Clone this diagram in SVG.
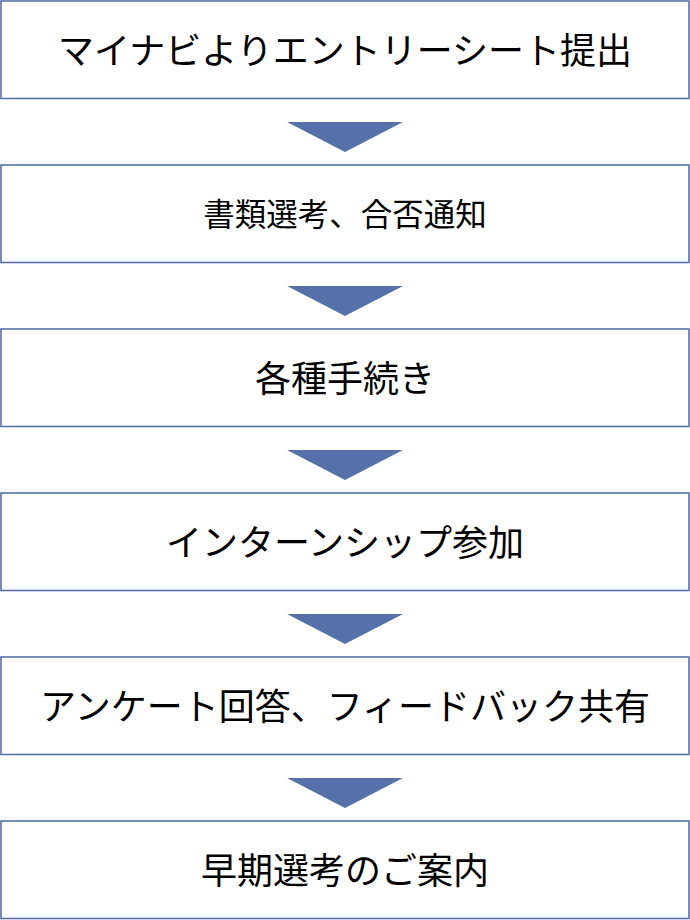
<svg xmlns="http://www.w3.org/2000/svg" width="690" height="920" viewBox="0 0 690 920">
<style>
.box{fill:#ffffff;stroke:#5670a9;stroke-width:1.6}
.t{font-family:"Noto Sans CJK JP","Noto Sans",sans-serif;font-size:36px;fill:#000;text-anchor:middle;dominant-baseline:central}
.s{font-size:31.5px}
.arr{fill:#5670a9}
</style>
<rect width="690" height="920" fill="#ffffff"/>
<g id="node1"><rect class="box" x="1" y="1" width="688" height="97.5"/><text class="t" x="345" y="47.5">マイナビよりエントリーシート提出</text></g>
<g id="node2"><rect class="box" x="1" y="165" width="688" height="97.5"/><text class="t s" x="345" y="211.5">書類選考、合否通知</text></g>
<g id="node3"><rect class="box" x="1" y="329" width="688" height="97.5"/><text class="t" x="345" y="375.5">各種手続き</text></g>
<g id="node4"><rect class="box" x="1" y="493" width="688" height="97.5"/><text class="t" x="345" y="539.5">インターンシップ参加</text></g>
<g id="node5"><rect class="box" x="1" y="657" width="688" height="97.5"/><text class="t" x="345" y="703.5">アンケート回答、フィードバック共有</text></g>
<g id="node6"><rect class="box" x="1" y="821" width="688" height="97.5"/><text class="t" x="345" y="867.5">早期選考のご案内</text></g>
<g id="connectors">
<polygon class="arr" points="287,122 403,122 345,152"/>
<polygon class="arr" points="287,286 403,286 345,316"/>
<polygon class="arr" points="287,450 403,450 345,480"/>
<polygon class="arr" points="287,614 403,614 345,644"/>
<polygon class="arr" points="287,778 403,778 345,808"/>
</g>
</svg>
